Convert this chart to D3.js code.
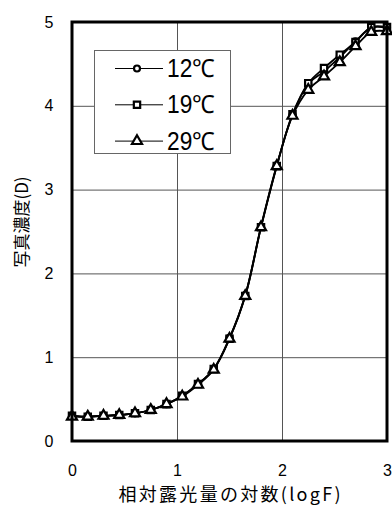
<!DOCTYPE html>
<html>
<head>
<meta charset="utf-8">
<script src="https://cdn.jsdelivr.net/npm/d3@7"></script>
<style>
  body { margin: 0; background: #fff; }
  svg { display: block; }
</style>
</head>
<body>
<div id="chart"></div>
<script>
// 相対露光量の対数 (logF)
const logF = [0, 0.15, 0.3, 0.45, 0.6, 0.75, 0.9, 1.05, 1.2, 1.35, 1.5,
              1.65, 1.8, 1.95, 2.1, 2.25, 2.4, 2.55, 2.7, 2.85, 3.0];

// 写真濃度 (D)
const density12 = [0.30, 0.29, 0.30, 0.31, 0.33, 0.37, 0.44, 0.54, 0.68, 0.86, 1.23,
                   1.74, 2.56, 3.29, 3.89, 4.26, 4.41, 4.58, 4.77, 4.93, 4.93];
const density19 = [0.30, 0.29, 0.30, 0.31, 0.33, 0.37, 0.44, 0.54, 0.68, 0.86, 1.22,
                   1.73, 2.55, 3.28, 3.90, 4.27, 4.45, 4.61, 4.76, 4.94, 4.94];
const density29 = [0.29, 0.29, 0.30, 0.31, 0.33, 0.37, 0.44, 0.53, 0.67, 0.85, 1.22,
                   1.73, 2.55, 3.28, 3.88, 4.19, 4.35, 4.52, 4.71, 4.88, 4.89];

const seriesNames = ["12℃", "19℃", "29℃"];
const xTicks = [0, 1, 2, 3];
const yTicks = [0, 1, 2, 3, 4, 5];

const xTitle = "相対露光量の対数(logF)";
const yTitle = "写真濃度(D)";

const svgWidth = 392, svgHeight = 507;
const margin = {top: 22, right: 5, bottom: 66, left: 72};
const width = svgWidth - margin.left - margin.right;
const height = svgHeight - margin.top - margin.bottom;

const svg = d3.select("#chart")
    .append("svg")
    .attr("width", svgWidth)
    .attr("height", svgHeight);

const g = svg.append("g")
    .attr("transform", `translate(${margin.left},${margin.top})`);

const x = d3.scaleLinear().domain([0, 3]).range([0, width]);
const y = d3.scaleLinear().domain([0, 5]).range([height, 0]);

// グリッド線
g.append("g")
    .call(d3.axisBottom(x).tickValues(xTicks.slice(1, -1)).tickSize(height).tickFormat(""))
    .call(s => s.select(".domain").remove())
    .selectAll("line").attr("stroke", "#555").attr("stroke-width", 1);

g.append("g")
    .call(d3.axisLeft(y).tickValues(yTicks.slice(1, -1)).tickSize(-width).tickFormat(""))
    .call(s => s.select(".domain").remove())
    .selectAll("line").attr("stroke", "#555").attr("stroke-width", 1);

// 目盛りラベル
g.append("g")
    .attr("transform", `translate(0,${height})`)
    .call(d3.axisBottom(x).tickValues(xTicks).tickSize(0).tickPadding(24).tickFormat(d3.format("d")))
    .call(s => s.select(".domain").remove())
    .selectAll("text")
    .attr("font-family", "'Liberation Sans', Arial, sans-serif")
    .attr("font-size", 16)
    .attr("fill", "#000");

g.append("g")
    .call(d3.axisLeft(y).tickValues(yTicks).tickSize(0).tickPadding(23).tickFormat(d3.format("d")))
    .call(s => s.select(".domain").remove())
    .selectAll("text")
    .attr("text-anchor", "middle")
    .attr("font-family", "'Liberation Sans', Arial, sans-serif")
    .attr("font-size", 16)
    .attr("fill", "#000");

// 軸タイトル
svg.append("text")
    .attr("x", 229.5)
    .attr("y", 501)
    .attr("text-anchor", "middle")
    .attr("font-family", "'Noto Sans CJK JP', sans-serif")
    .attr("font-size", 18)
    .attr("textLength", 222)
    .attr("lengthAdjust", "spacing")
    .attr("fill", "#000")
    .text(xTitle);

svg.append("text")
    .attr("transform", "translate(28,222) rotate(-90)")
    .attr("text-anchor", "middle")
    .attr("font-family", "'Noto Sans CJK JP', sans-serif")
    .attr("font-size", 17)
    .attr("fill", "#000")
    .text(yTitle);

// 系列
const seriesData = [density12, density19, density29].map((vals, i) => ({
    name: seriesNames[i],
    points: logF.map((v, j) => ({x: v, y: vals[j]}))
}));

const line = d3.line()
    .x(d => x(d.x))
    .y(d => y(d.y))
    .curve(d3.curveCatmullRom);

seriesData.forEach(s => {
    g.append("path")
        .datum(s.points)
        .attr("fill", "none")
        .attr("stroke", "#000")
        .attr("stroke-width", 1.8)
        .attr("d", line);
});

const symbols = [d3.symbolCircle, d3.symbolSquare, d3.symbolTriangle];
const symbolSizes = [28, 40, 44];

function drawMarker(sel, i) {
    sel.attr("d", d3.symbol().type(symbols[i]).size(symbolSizes[i])())
        .attr("fill", "#fff")
        .attr("stroke", "#000")
        .attr("stroke-width", 2.2);
}

seriesData.forEach((s, i) => {
    g.append("g")
        .selectAll("path")
        .data(s.points)
        .enter().append("path")
        .attr("transform", d => `translate(${x(d.x)},${y(d.y)})`)
        .call(drawMarker, i);
});

// 枠
g.append("rect")
    .attr("width", width)
    .attr("height", height)
    .attr("fill", "none")
    .attr("stroke", "#000")
    .attr("stroke-width", 3);

// 凡例
const legend = svg.append("g").attr("transform", "translate(94,50)");
legend.append("rect")
    .attr("x", 0.5).attr("y", 0.5)
    .attr("width", 136).attr("height", 103)
    .attr("fill", "#fff")
    .attr("stroke", "#666")
    .attr("stroke-width", 1);

seriesNames.forEach((name, i) => {
    const ly = 18.5 + i * 36.3;
    const item = legend.append("g").attr("transform", `translate(0,${ly})`);
    item.append("line")
        .attr("x1", 21).attr("x2", 69)
        .attr("stroke", "#000").attr("stroke-width", 1);
    item.append("path")
        .attr("transform", "translate(43,0)")
        .call(drawMarker, i);
    item.append("text")
        .attr("x", 73)
        .attr("y", 8.5)
        .attr("font-family", "'Liberation Sans', Arial, sans-serif")
        .attr("font-size", 25)
        .attr("textLength", 48)
        .attr("lengthAdjust", "spacingAndGlyphs")
        .attr("fill", "#000")
        .text(name);
});
</script>
</body>
</html>
